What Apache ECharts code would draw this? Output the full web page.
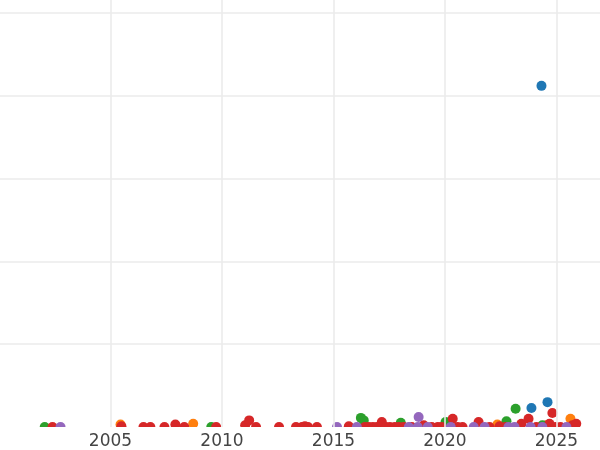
<!DOCTYPE html>
<html>
<head>
<meta charset="utf-8">
<script src="https://cdn.jsdelivr.net/npm/echarts@6/dist/echarts.min.js"></script>
<style>html,body{margin:0;padding:0;background:#fff;overflow:hidden}#c{position:absolute;left:-1.5px;top:0;width:602px;height:450px}</style>
</head>
<body>
<div id="c"></div>
<script>
// [year, value]
const blueSeries = [[2024.33, 4.12], [2023.88, 0.23], [2024.60, 0.30]];
const orangeSeries = [[2005.45, 0.03], [2008.71, 0.04], [2022.35, 0.03], [2024.55, 0.02], [2025.63, 0.10]];
const greenSeries = [[2002.05, 0], [2009.52, 0], [2016.23, 0.11], [2016.36, 0.08], [2018.02, 0.05],
  [2020.03, 0.06], [2022.76, 0.07], [2023.17, 0.22], [2024.37, 0.02]];
const redSeries = [[2002.40, 0], [2005.49, 0.01], [2006.48, 0], [2006.79, 0], [2007.42, 0], [2007.91, 0.03],
  [2008.31, 0], [2009.74, 0], [2011.04, 0.02], [2011.22, 0.08], [2011.53, 0], [2012.56, 0],
  [2013.32, 0], [2013.59, 0], [2013.72, 0.01], [2013.86, 0], [2014.26, 0], [2015.69, 0.01],
  [2016.41, 0], [2016.59, 0], [2016.77, 0], [2016.95, 0], [2017.17, 0.06], [2017.35, 0],
  [2017.53, 0], [2017.75, 0], [2017.93, 0], [2018.15, 0], [2018.51, 0], [2019.05, 0.02],
  [2019.41, 0], [2019.68, 0], [2019.85, 0], [2020.35, 0.10], [2020.57, 0], [2020.79, 0],
  [2021.51, 0.06], [2022.00, 0], [2022.45, 0.01], [2022.72, 0], [2023.43, 0.04], [2023.75, 0.10],
  [2024.10, 0], [2024.69, 0.04], [2024.82, 0.17], [2024.96, 0], [2025.18, 0], [2025.72, 0.02],
  [2025.89, 0.04]];
const purpleSeries = [[2002.76, 0], [2015.16, 0], [2016.05, 0], [2018.38, 0], [2018.78, 0], [2018.82, 0.12],
  [2019.23, 0], [2020.26, 0], [2021.29, 0], [2021.78, 0], [2022.85, 0], [2023.12, 0],
  [2023.84, 0], [2024.37, 0], [2025.45, 0]];
const xTicks = [2005, 2010, 2015, 2020, 2025];

const colors = ['#1f77b4', '#ff7f0e', '#2ca02c', '#d62728', '#9467bd'];
const seriesData = [blueSeries, orangeSeries, greenSeries, redSeries, purpleSeries];

const chart = echarts.init(document.getElementById('c'), null, {renderer: 'canvas'});
const g = '#ebebeb', t = 'rgba(0,0,0,0)';
chart.setOption({
  animation: false,
  backgroundColor: '#fff',
  grid: {left: 0, right: 0, top: 0, bottom: 23, containLabel: false},
  xAxis: {
    type: 'value', min: 2000, max: 2027, interval: 5, z: 10,
    axisLine: {show: false}, axisTick: {show: false},
    splitLine: {show: true, lineStyle: {color: [t, g, g, g, g, g, t], width: 1.6}},
    axisLabel: {
      showMinLabel: false, showMaxLabel: false, margin: 6,
      color: '#444', fontSize: 17, fontFamily: 'DejaVu Sans',
      formatter: v => xTicks.indexOf(v) >= 0 ? String(v) : ''
    }
  },
  yAxis: {
    type: 'value', min: 0, max: 5.157, interval: 1,
    axisLine: {show: false}, axisTick: {show: false}, axisLabel: {show: false},
    splitLine: {show: true, lineStyle: {color: [t, g, g, g, g, g, t], width: 1.6}}
  },
  graphic: [{
    type: 'rect', z: 5, silent: true,
    shape: {x: 0, y: 427, width: 602, height: 23},
    style: {fill: '#fff'}
  }],
  series: seriesData.map((d, i) => ({
    type: 'scatter', data: d, symbol: 'circle', symbolSize: 10, clip: true,
    itemStyle: {color: colors[i], opacity: 1}
  }))
});
</script>
</body>
</html>
